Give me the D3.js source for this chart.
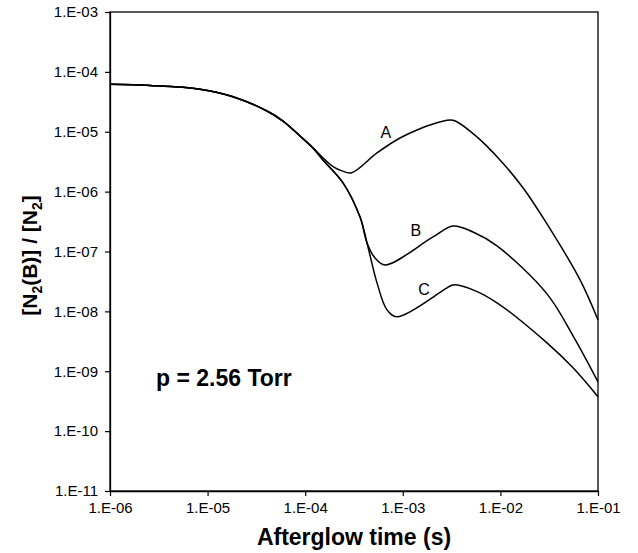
<!DOCTYPE html>
<html>
<head>
<meta charset="utf-8">
<script src="https://cdn.jsdelivr.net/npm/d3@7"></script>
<style>
  body { margin: 0; background: #fff; }
  svg { display: block; }
</style>
</head>
<body>
<div id="chart"></div>
<script>
// (time in s, ratio [N2(B)]/[N2])
const commonT = [1e-6, 2.57e-6, 8.36e-6, 1.82e-5, 4.06e-5, 5.93e-5, 8.85e-5, 1.2e-4];
const commonV = [6.21e-5, 5.93e-5, 5.13e-5, 3.85e-5, 2.22e-5, 1.51e-5, 8.5e-6, 5.37e-6];

const aT = [1.93e-4, 2.38e-4, 2.99e-4, 5.44e-4, 9.35e-4, 1.40e-3, 1.90e-3, 3.05e-3, 3.5e-3, 5.71e-3, 9.91e-3, 1.71e-2, 3.0e-2, 6.55e-2, 1e-1];
const aV = [2.61e-6, 2.22e-6, 2.07e-6, 4.43e-6, 7.87e-6, 1.07e-5, 1.30e-5, 1.57e-5, 1.5e-5, 8.28e-6, 3.38e-6, 1.15e-6, 2.89e-7, 3.36e-8, 7.2e-9];

const bcT = [1.52e-4, 2.44e-4, 3.64e-4, 4.30e-4];
const bcV = [3.38e-6, 1.40e-6, 3.79e-7, 1.39e-7];

const bT = [5.19e-4, 6.58e-4, 2.04e-3, 3.27e-3, 5.24e-3, 9.23e-3, 3.0e-2, 5.55e-2, 1e-1];
const bV = [7.82e-8, 5.97e-8, 1.75e-7, 2.67e-7, 2.12e-7, 1.24e-7, 1.96e-8, 3.9e-9, 6.65e-10];

const cT = [5.44e-4, 6.89e-4, 8.73e-4, 2.84e-3, 3.27e-3, 5.24e-3, 9.23e-3, 3.0e-2, 5.55e-2, 1e-1];
const cV = [2.99e-8, 1.06e-8, 8.1e-9, 2.47e-8, 2.77e-8, 2.29e-8, 1.39e-8, 2.98e-9, 1.14e-9, 3.74e-10];

const xTicks = [1e-6, 1e-5, 1e-4, 1e-3, 1e-2, 1e-1];
const yTicks = [1e-11, 1e-10, 1e-9, 1e-8, 1e-7, 1e-6, 1e-5, 1e-4, 1e-3];

const labels = [
  {text: "A", t: 6.7e-4, v: 7.9e-6},
  {text: "B", t: 1.36e-3, v: 1.82e-7},
  {text: "C", t: 1.65e-3, v: 1.88e-8}
];

const W = 638, H = 553;
const margin = {top: 12, right: 40, bottom: 62, left: 110};

const svg = d3.select("#chart").append("svg")
  .attr("width", W).attr("height", H)
  .attr("font-family", "'Liberation Sans', Arial, sans-serif");

const x = d3.scaleLog().domain([1e-6, 1e-1]).range([margin.left, W - margin.right]);
const y = d3.scaleLog().domain([1e-11, 1e-3]).range([H - margin.bottom, margin.top]);

const fmt = d => "1.E-" + String(-Math.round(Math.log10(d))).padStart(2, "0");

// frame
svg.append("rect")
  .attr("x", x(1e-6)).attr("y", y(1e-3))
  .attr("width", x(1e-1) - x(1e-6)).attr("height", y(1e-11) - y(1e-3))
  .attr("fill", "none").attr("stroke", "#000").attr("stroke-width", 1.3);

const xAxis = svg.append("g")
  .attr("transform", `translate(0,${H - margin.bottom})`)
  .call(d3.axisBottom(x).tickValues(xTicks).tickFormat(fmt).tickSize(5).tickPadding(6).tickSizeOuter(0));
const yAxis = svg.append("g")
  .attr("transform", `translate(${margin.left},0)`)
  .call(d3.axisLeft(y).tickValues(yTicks).tickFormat(fmt).tickSize(5).tickPadding(7).tickSizeOuter(0));

[xAxis, yAxis].forEach(g => {
  g.select(".domain").attr("stroke-width", 1.3);
  g.selectAll("text").attr("font-size", 15).attr("fill", "#000").attr("font-family", null);
  g.selectAll("line").attr("stroke-width", 1.2);
});

// curves
const toPts = (ts, vs) => ts.map((t, i) => [t, vs[i]]);
const common = toPts(commonT, commonV);
const bc = toPts(bcT, bcV);
const series = [
  common.concat(toPts(aT, aV)),
  common.concat(bc, toPts(bT, bV)),
  common.concat(bc, toPts(cT, cV))
];
const line = d3.line().x(d => x(d[0])).y(d => y(d[1])).curve(d3.curveCatmullRom.alpha(0.5));
svg.append("g").selectAll("path").data(series).join("path")
  .attr("d", line)
  .attr("fill", "none").attr("stroke", "#000").attr("stroke-width", 1.5);

svg.append("g").selectAll("text").data(labels).join("text")
  .attr("x", d => x(d.t)).attr("y", d => y(d.v))
  .attr("text-anchor", "middle").attr("font-size", 16)
  .text(d => d.text);

// annotation
svg.append("text")
  .attr("x", 156).attr("y", 386)
  .attr("font-size", 23).attr("font-weight", "bold")
  .text("p = 2.56 Torr");

// axis titles
svg.append("text")
  .attr("x", (x(1e-6) + x(1e-1)) / 2).attr("y", 545)
  .attr("text-anchor", "middle").attr("font-size", 23).attr("font-weight", "bold")
  .text("Afterglow time (s)");

const yt = svg.append("text")
  .attr("transform", `translate(37,${(y(1e-3) + y(1e-11)) / 2 + 4}) rotate(-90)`)
  .attr("text-anchor", "middle").attr("font-size", 21).attr("font-weight", "bold");
yt.append("tspan").text("[N");
yt.append("tspan").attr("font-size", 14).attr("dy", 5).text("2");
yt.append("tspan").attr("dy", -5).text("(B)] / [N");
yt.append("tspan").attr("font-size", 14).attr("dy", 5).text("2");
yt.append("tspan").attr("dy", -5).text("]");
</script>
</body>
</html>
